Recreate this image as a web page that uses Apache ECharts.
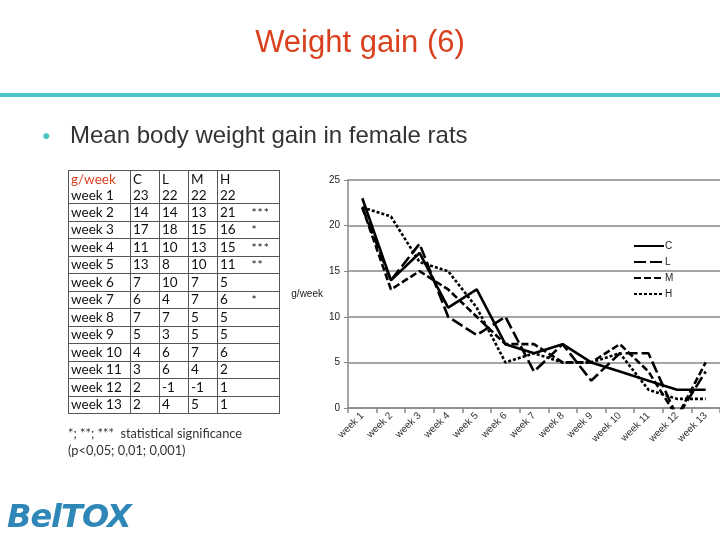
<!DOCTYPE html>
<html>
<head>
<meta charset="utf-8">
<script src="https://cdn.jsdelivr.net/npm/echarts@6/dist/echarts.min.js"></script>
<style>
  html, body { margin: 0; padding: 0; background: #fff; }
  #page { position: relative; width: 720px; height: 540px; overflow: hidden; font-family: "Liberation Sans", Arial, sans-serif; }
  #chart { position: absolute; left: 0; top: 0; width: 720px; height: 540px; }
  #title { position: absolute; left: 0; width: 720px; top: 24px; text-align: center; color: #D9411E; font-size: 31px; }
  #rule { position: absolute; left: 0; top: 93px; width: 720px; height: 4px; background: #4CC6C6; }
  #bullet { position: absolute; left: 42px; top: 127px; color: #4CC6C6; font-size: 14px; }
  #sub { position: absolute; left: 70px; top: 121px; color: #333; font-size: 24px; }
  #tbl { position: absolute; left: 68px; top: 170px; border-collapse: collapse; table-layout: fixed; font-family: Lato, "Open Sans", sans-serif; font-size: 13.5px; color: #111; }
  #tbl tr { height: 17.5px; }
  #tbl tr.first { height: 32px; }
  #tbl tr.first td { line-height: 16px; }
  #tbl td { border: 1.5px solid #555; padding: 0 2px; line-height: 15px; vertical-align: middle; overflow: hidden; white-space: nowrap; box-sizing: border-box; }
  #tbl td.lab { width: 62px; }
  #tbl td.v { width: 29px; }
  #tbl td.h { width: 32px; border-right: none; }
  #tbl td.s { width: 30px; border-left: none; font-size: 12px; letter-spacing: 1px; }
  #note { position: absolute; left: 68px; top: 425px; font-family: Lato, "Open Sans", sans-serif; font-size: 12.8px; color: #333; line-height: 17px; }
  #logo { position: absolute; left: 7px; top: 497px; font-family: "DejaVu Sans", sans-serif; font-weight: bold; font-style: italic; font-size: 32px; color: #2F87B8; letter-spacing: -1px; }
</style>
</head>
<body>
<div id="page">
  <div id="chart"></div>
  <div id="title">Weight gain (6)</div>
  <div id="rule"></div>
  <div id="bullet">&#9679;</div>
  <div id="sub">Mean body weight gain in female rats</div>
  <table id="tbl"></table>
  <div id="note">*; **; ***&nbsp; statistical significance<br>(p&lt;0,05; 0,01; 0,001)</div>
  <div id="logo">BelTOX</div>
</div>
<script>
const weeks = ["week 1","week 2","week 3","week 4","week 5","week 6","week 7","week 8","week 9","week 10","week 11","week 12","week 13"];
const groups = ["C","L","M","H"];
const C = [23,14,17,11,13,7,6,7,5,4,3,2,2];
const L = [22,14,18,10,8,10,4,7,3,6,6,-1,4];
const M = [22,13,15,13,10,7,7,5,5,7,4,-1,5];
const H = [22,21,16,15,11,5,6,5,5,6,2,1,1];
const stars = ["","***","*","***","**","","*","","","","","",""];
const yTicks = [0,5,10,15,20,25];

// table
const tbl = document.getElementById('tbl');
const all = [C, L, M, H];
let html = '<tr class="first"><td class="lab"><span style="color:#D9411E">g/week</span><br>' + weeks[0] + '</td>';
groups.forEach((g, gi) => {
  html += '<td class="' + (gi === 3 ? 'h' : 'v') + '">' + g + '<br>' + all[gi][0] + '</td>';
});
html += '<td class="s"></td></tr>';
for (let i = 1; i < weeks.length; i++) {
  html += '<tr><td class="lab">' + weeks[i] + '</td>';
  all.forEach((arr, gi) => { html += '<td class="' + (gi === 3 ? 'h' : 'v') + '">' + arr[i] + '</td>'; });
  html += '<td class="s">' + stars[i] + '</td></tr>';
}
tbl.innerHTML = html;

const chart = echarts.init(document.getElementById('chart'));
const dashes = ['solid', [12, 4], [7, 3], [3, 2]];
chart.setOption({
  animation: false,
  grid: { left: 348, top: 180, width: 382, height: 228 },
  legend: {
    orient: 'vertical', left: 628, top: 236, itemWidth: 30, itemHeight: 6, itemGap: 6,
    itemStyle: { opacity: 0 },
    textStyle: { fontSize: 10, color: '#222', fontFamily: 'Liberation Sans', padding: [0,0,0,-4] },
    data: groups
  },
  xAxis: {
    type: 'category', data: weeks, boundaryGap: true,
    axisLine: { lineStyle: { color: '#888', width: 1.5 } },
    axisTick: { show: true, interval: 0, length: 5, lineStyle: { color: '#888', width: 1.5 } },
    axisLabel: { interval: 0, rotate: 45, fontSize: 10, color: '#333', margin: 6, fontFamily: 'Liberation Sans' }
  },
  yAxis: {
    type: 'value', min: yTicks[0], max: yTicks[yTicks.length - 1], interval: 5,
    name: 'g/week', nameLocation: 'middle', nameRotate: 0, nameGap: 17,
    nameTextStyle: { fontSize: 10, color: '#222', fontFamily: 'Liberation Sans', align: 'right', verticalAlign: 'middle' },
    axisLine: { show: true, lineStyle: { color: '#888', width: 1.5 } },
    axisTick: { show: true, length: 4, lineStyle: { color: '#888' } },
    splitLine: { lineStyle: { color: '#888', width: 1.5 } },
    axisLabel: { fontSize: 10, color: '#222', margin: 8, fontFamily: 'Liberation Sans' }
  },
  series: groups.map((g, i) => ({
    name: g, type: 'line', data: all[i], symbol: 'none', clip: true,
    lineStyle: { color: '#000', width: 2.6, type: dashes[i] },
    itemStyle: { color: '#000' }
  }))
});
</script>
</body>
</html>
